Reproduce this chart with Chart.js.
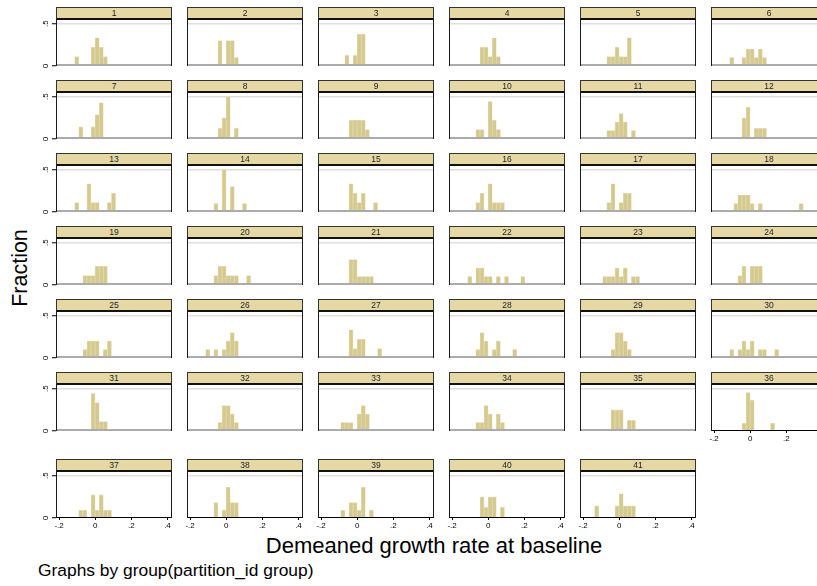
<!DOCTYPE html>
<html>
<head>
<meta charset="utf-8">
<script src="https://cdn.jsdelivr.net/npm/chart.js@4.4.0/dist/chart.umd.min.js"></script>
<style>
  body { margin: 0; width: 817px; height: 586px; overflow: hidden; background: #fff; position: relative;
         font-family: "Liberation Sans", Arial, sans-serif; }
  canvas { position: absolute; }
  .strip { position: absolute; width: 116px; height: 13px; box-sizing: border-box; background: #e5d8a3;
           border: 1px solid #333; border-bottom: 2px solid #111; font-size: 8.5px; line-height: 10px;
           text-align: center; color: #222; z-index: 2; }
  .lbl { position: absolute; color: #000; white-space: nowrap; }
</style>
</head>
<body>
<script>
// group labels, one panel each
var panelLabels = ['1','2','3','4','5','6','7','8','9','10','11','12','13','14','15','16','17','18','19','20',
                   '21','22','23','24','25','26','27','28','29','30','31','32','33','34','35','36','37','38','39','40','41'];

// histogram bins (shared by all panels)
var binStart = -0.136;
var binWidth = 0.0226;

// fraction in each of the 19 bins, per panel
var fractions = [
  [0,.111,0,0,0,.222,.333,.222,.111,0,0,0,0,0,0,0,0,0,0],
  [0,0,0,0,.3,0,.3,.3,.1,0,0,0,0,0,0,0,0,0,0],
  [0,0,0,.125,0,.125,.375,.375,0,0,0,0,0,0,0,0,0,0,0],
  [0,0,0,0,.222,.222,.111,.333,.111,0,0,0,0,0,0,0,0,0,0],
  [0,0,0,.111,.111,.222,.111,.111,.333,0,0,0,0,0,0,0,0,0,0],
  [0,.1,0,0,.1,.2,.2,.1,.2,.1,0,0,0,0,0,0,0,0,0],
  [0,0,.143,0,0,.143,.286,.429,0,0,0,0,0,0,0,0,0,0,0],
  [0,0,0,0,.125,.25,.5,0,.125,0,0,0,0,0,0,0,0,0,0],
  [0,0,0,0,.222,.222,.222,.222,.111,0,0,0,0,0,0,0,0,0,0],
  [0,0,0,.111,.111,0,.444,.222,.111,0,0,0,0,0,0,0,0,0,0],
  [0,0,0,.1,.1,.2,.3,.2,0,.1,0,0,0,0,0,0,0,0,0],
  [0,0,0,0,.25,.375,0,.125,.125,.125,0,0,0,0,0,0,0,0,0],
  [0,.111,0,0,.333,.111,.111,0,0,.111,.222,0,0,0,0,0,0,0,0],
  [0,0,0,.1,0,.5,0,.3,0,0,.1,0,0,0,0,0,0,0,0],
  [0,0,0,0,.333,.222,.111,.222,0,0,.111,0,0,0,0,0,0,0,0],
  [0,0,0,.111,.222,0,.333,.111,.111,.111,0,0,0,0,0,0,0,0,0],
  [0,0,0,.111,.333,0,.111,.222,.222,0,0,0,0,0,0,0,0,0,0],
  [0,0,.1,.2,.2,.2,.1,0,.1,0,0,0,0,0,0,0,0,0,.1],
  [0,0,0,.111,.111,.111,.222,.222,.222,0,0,0,0,0,0,0,0,0,0],
  [0,0,0,.111,.222,.222,.111,.111,.111,0,0,.111,0,0,0,0,0,0,0],
  [0,0,0,0,.3,.3,.1,.1,.1,.1,0,0,0,0,0,0,0,0,0],
  [0,.1,0,.2,.2,.1,.1,0,.1,0,.1,0,0,0,.1,0,0,0,0],
  [0,0,.1,.1,.1,.2,.1,.2,0,.1,.1,0,0,0,0,0,0,0,0],
  [0,0,0,.111,.222,0,.222,.222,.222,0,0,0,0,0,0,0,0,0,0],
  [0,0,0,.1,.2,.2,.2,0,.1,.2,0,0,0,0,0,0,0,0,0],
  [0,.1,0,.1,0,.1,.2,.3,.2,0,0,0,0,0,0,0,0,0,0],
  [0,0,0,0,.333,.111,.222,.222,0,0,0,.111,0,0,0,0,0,0,0],
  [0,0,0,.1,.3,.2,0,.1,.2,0,0,0,.1,0,0,0,0,0,0],
  [0,0,0,0,.1,.3,.3,.2,.1,0,0,0,0,0,0,0,0,0,0],
  [0,.1,0,.1,.2,.1,.2,0,.1,.1,0,0,.1,0,0,0,0,0,0],
  [0,0,0,0,0,.444,.333,.111,.111,0,0,0,0,0,0,0,0,0,0],
  [0,0,0,0,.1,.3,.3,.2,.1,0,0,0,0,0,0,0,0,0,0],
  [0,0,.1,.1,.1,0,.2,.3,.2,0,0,0,0,0,0,0,0,0,0],
  [0,0,0,.1,.1,.3,.2,0,.2,.1,0,0,0,0,0,0,0,0,0],
  [0,0,0,0,.25,.25,.25,0,.125,.125,0,0,0,0,0,0,0,0,0],
  [0,0,0,0,.091,.455,.364,0,0,0,0,.091,0,0,0,0,0,0,0],
  [0,0,.091,.091,0,.273,.091,.273,.091,.091,0,0,0,0,0,0,0,0,0],
  [0,0,0,.182,0,.091,.364,.182,.182,0,0,0,0,0,0,0,0,0,0],
  [0,0,.091,0,.182,.182,.091,.364,0,.091,0,0,0,0,0,0,0,0,0],
  [0,0,0,0,.25,.125,.25,.25,0,.125,0,0,0,0,0,0,0,0,0],
  [.143,0,0,0,0,.143,.286,.143,.143,.143,0,0,0,0,0,0,0,0,0]
];

var xTicks = [-0.2, 0, 0.2, 0.4];
var yTicks = [0, 0.5];
var xMin = -0.217, xMax = 0.425;
var yMax = 0.556;

var FONT = '"Liberation Sans", Arial, sans-serif';
var barFill = '#d4ca8f';
var barEdge = '#e9e2bb';

// layout of the grid of panels
var plotLeft0 = 56, colStep = 131, plotW = 116, plotH = 47;
var rowBase = [66, 139, 212, 285, 358, 431, 518];

function fmtTick(v) {
    if (Math.abs(v) < 1e-9) return '0';
    var s = String(Math.round(Math.abs(v) * 10) / 10).replace(/^0/, '');
    return (v < 0 ? '-' : '') + s;
}

// frame, baseline and rotated y labels like stata draws them
var panelFrame = {
    id: 'panelFrame',
    afterDatasetsDraw: function (chart, args, opts) {
        var ctx = chart.ctx, ca = chart.chartArea;
        ctx.save();
        if (opts.axis) {
            ctx.strokeStyle = '#000'; ctx.lineWidth = 1;
            ctx.beginPath(); ctx.moveTo(ca.left, ca.bottom - 0.5); ctx.lineTo(ca.right, ca.bottom - 0.5); ctx.stroke();
        } else {
            ctx.strokeStyle = '#ababab'; ctx.lineWidth = 2;
            ctx.beginPath(); ctx.moveTo(ca.left, ca.bottom - 1); ctx.lineTo(ca.right, ca.bottom - 1); ctx.stroke();
        }
        ctx.strokeStyle = '#1a1a1a'; ctx.lineWidth = 1;
        ctx.beginPath();
        ctx.moveTo(ca.left + 0.5, ca.bottom);
        ctx.lineTo(ca.left + 0.5, ca.top + 0.5);
        ctx.lineTo(ca.right - 0.5, ca.top + 0.5);
        ctx.lineTo(ca.right - 0.5, ca.bottom);
        ctx.stroke();
        if (opts.yLabels) {
            var ys = chart.scales.y;
            ctx.fillStyle = '#000';
            ctx.font = '8px ' + FONT;
            ctx.textAlign = 'center';
            ctx.textBaseline = 'middle';
            ys.ticks.forEach(function (t) {
                var py = ys.getPixelForValue(t.value);
                ctx.save();
                ctx.translate(ca.left - 10, py);
                ctx.rotate(-Math.PI / 2);
                ctx.fillText(fmtTick(t.value), 0, 0);
                ctx.restore();
            });
        }
        ctx.restore();
    }
};

panelLabels.forEach(function (lab, i) {
    var col = i % 6, row = Math.floor(i / 6);
    var left = plotLeft0 + colStep * col, base = rowBase[row];
    var hasAxis = row === 6 || i === 35;

    var cv = document.createElement('canvas');
    cv.width = 24 + plotW + 3;
    cv.height = 2 + plotH + 14;
    cv.style.left = (left - 24) + 'px';
    cv.style.top = (base - plotH - 2) + 'px';
    document.body.appendChild(cv);

    var strip = document.createElement('div');
    strip.className = 'strip';
    strip.style.left = left + 'px';
    strip.style.top = (base - plotH - 12) + 'px';
    strip.textContent = lab;
    document.body.appendChild(strip);

    var points = fractions[i].map(function (f, k) {
        return { x: binStart + (k + 0.5) * binWidth, y: f || null };
    });

    new Chart(cv, {
        type: 'bar',
        data: {
            datasets: [{
                data: points,
                backgroundColor: barFill,
                borderColor: barEdge,
                borderWidth: 0.6,
                barPercentage: 1,
                categoryPercentage: 1
            }]
        },
        options: {
            responsive: false,
            animation: false,
            devicePixelRatio: 1,
            events: [],
            layout: { padding: { top: 2, right: 3, left: 0, bottom: 0 } },
            plugins: {
                legend: { display: false },
                tooltip: { enabled: false },
                panelFrame: { axis: hasAxis, yLabels: col === 0 }
            },
            scales: {
                x: {
                    type: 'linear', min: xMin, max: xMax, offset: false,
                    afterBuildTicks: function (s) { s.ticks = xTicks.map(function (v) { return { value: v }; }); },
                    afterFit: function (s) { s.height = 14; },
                    grid: { offset: false, drawOnChartArea: false, drawTicks: hasAxis, tickLength: 2, tickColor: '#000' },
                    border: { display: false },
                    ticks: {
                        display: hasAxis, autoSkip: false, maxRotation: 0, padding: 1, color: '#000',
                        font: { size: 8, family: FONT },
                        callback: function (v) { return fmtTick(v); }
                    }
                },
                y: {
                    min: 0, max: yMax,
                    afterBuildTicks: function (s) { s.ticks = yTicks.map(function (v) { return { value: v }; }); },
                    afterFit: function (s) { s.width = 24; },
                    grid: {
                        color: function (c) { return c.tick && c.tick.value === 0.5 ? '#dedede' : 'rgba(0,0,0,0)'; },
                        lineWidth: 1.5, drawTicks: col === 0, tickLength: 4, tickColor: '#000', tickWidth: 1
                    },
                    border: { display: false },
                    ticks: { display: false }
                }
            }
        },
        plugins: [panelFrame]
    });
});
</script>
<div class="lbl" style="left:-80px; top:256px; width:200px; height:24px; line-height:24px; font-size:21.5px; text-align:center; transform:rotate(-90deg);">Fraction</div>
<div class="lbl" style="left:134px; top:534px; width:600px; line-height:24px; font-size:22px; text-align:center;">Demeaned growth rate at baseline</div>
<div class="lbl" style="left:38px; top:560px; line-height:20px; font-size:17.4px;">Graphs by group(partition_id group)</div>
</body>
</html>
